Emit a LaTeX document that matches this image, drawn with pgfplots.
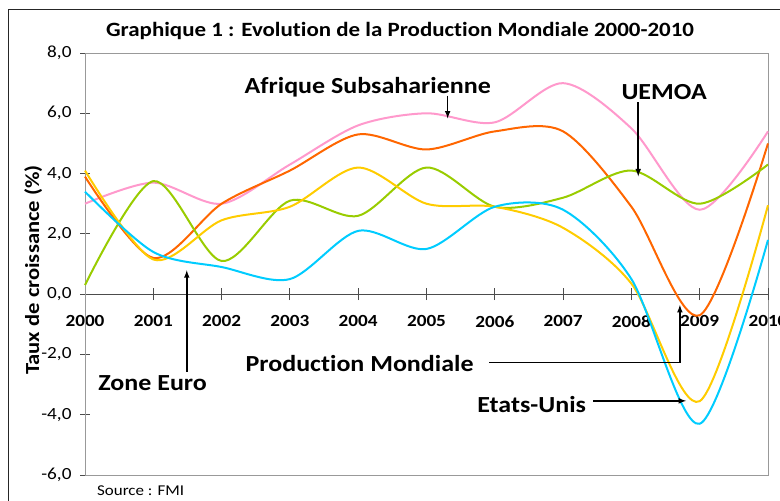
\documentclass[border=0pt]{standalone}
\usepackage{pgfplots}
\pgfplotsset{compat=1.18}
\usepackage{fontspec}
\setmainfont{Carlito}[FakeStretch=1.13, Ligatures=NoCommon]
\definecolor{cpink}{HTML}{FF99CC}
\definecolor{corange}{HTML}{FF6600}
\definecolor{cgreen}{HTML}{99CC00}
\definecolor{cyellow}{HTML}{FFCC00}
\definecolor{cblue}{HTML}{00CCFF}
\newcommand{\ann}{\fontsize{23}{23}\selectfont\bfseries}
\begin{document}
\begin{tikzpicture}[x=1pt,y=1pt]
\begin{axis}[
  at={(85pt,-475pt)}, anchor=south west,
  scale only axis, width=683pt, height=422pt,
  xmin=2000, xmax=2010, ymin=-6, ymax=8,
  axis x line*=middle, axis y line*=left,
  hide obscured x ticks=false,
  axis line style={black!70, line width=1pt},
  xtick={2000,2001,2002,2003,2004,2005,2006,2007,2008,2009,2010},
  xticklabels={2000,2001,2002,2003,2004,2005,2006,2007,2008,2009,2010},
  ytick={-6,-4,-2,0,2,4,6,8},
  yticklabels={{-6,0},{-4,0},{-2,0},{0,0},{2,0},{4,0},{6,0},{8,0}},
  tick align=center, major tick length=10pt,
  tick style={black!70, line width=1pt},
  xticklabel style={font=\fontsize{17}{17}\selectfont\bfseries, yshift=-13pt},
  yticklabel style={font=\fontsize{17}{17}\selectfont, xshift=-5pt},
  clip=false,
]
\draw[black!40, line width=1pt] (rel axis cs:0,0) rectangle (rel axis cs:1,1);
\pgfplotsinvokeforeach{2001,2002,2003,2004,2005,2006,2007,2008,2009,2010}{
  \draw[black!70, line width=1pt] (axis cs:#1,0) ++(0pt,-6pt) -- ++(0pt,12pt);
}
% Afrique Subsaharienne
\addplot[cpink, line width=2pt, smooth] coordinates {
(2000,3.0) (2001,3.7) (2002,3.0) (2003,4.3) (2004,5.6) (2005,6.0) (2006,5.7) (2007,7.0) (2008,5.5) (2009,2.8) (2010,5.4)};
% Production Mondiale
\addplot[corange, line width=2pt, smooth] coordinates {
(2000,3.9) (2001,1.2) (2002,3.0) (2003,4.1) (2004,5.3) (2005,4.8) (2006,5.4) (2007,5.4) (2008,2.9) (2009,-0.7) (2010,5.0)};
% UEMOA
\addplot[cgreen, line width=2pt, smooth] coordinates {
(2000,0.3) (2001,3.75) (2002,1.1) (2003,3.1) (2004,2.6) (2005,4.2) (2006,2.9) (2007,3.2) (2008,4.1) (2009,3.0) (2010,4.3)};
% Etats-Unis
\addplot[cyellow, line width=2pt, smooth] coordinates {
(2000,4.1) (2001,1.15) (2002,2.45) (2003,2.9) (2004,4.2) (2005,3.0) (2006,2.9) (2007,2.2) (2008,0.35) (2009,-3.55) (2010,2.95)};
% Zone Euro
\addplot[cblue, line width=2pt, smooth] coordinates {
(2000,3.4) (2001,1.4) (2002,0.9) (2003,0.5) (2004,2.1) (2005,1.5) (2006,2.9) (2007,2.8) (2008,0.5) (2009,-4.3) (2010,1.8)};
% annotations
\node[font=\ann, anchor=base, inner sep=0pt] at (axis cs:2004.14,6.66) {Afrique Subsaharienne};
\draw[-latex, line width=1.5pt] (axis cs:2005.31,6.59) -- (axis cs:2005.31,5.83);
\node[font=\ann, anchor=base, inner sep=0pt] at (axis cs:2008.48,6.46) {UEMOA};
\draw[-latex, line width=1.5pt] (axis cs:2008.10,6.36) -- (axis cs:2008.10,3.91);
\node[font=\ann, anchor=base, inner sep=0pt] at (axis cs:2004.02,-2.58) {Production Mondiale};
\draw[line width=0.8pt] (axis cs:2005.92,-2.28) -- (axis cs:2008.71,-2.28);
\draw[-latex, line width=1.5pt] (axis cs:2008.71,-2.28) -- (axis cs:2008.71,-0.36);
\node[font=\ann, anchor=base, inner sep=0pt] at (axis cs:2000.99,-3.18) {Zone Euro};
\draw[-latex, line width=1.5pt] (axis cs:2001.49,-2.58) -- (axis cs:2001.49,0.79);
\node[font=\ann, anchor=base, inner sep=0pt] at (axis cs:2006.54,-3.91) {Etats-Unis};
\draw[-latex, line width=1.5pt] (axis cs:2007.44,-3.54) -- (axis cs:2008.80,-3.54);
\end{axis}
\node[font=\fontsize{20.3}{20.3}\selectfont\bfseries, anchor=base, inner sep=0pt] at (400pt,-36pt) {Graphique 1 : Evolution de la Production Mondiale 2000-2010};
\node[font=\fontsize{20}{20}\selectfont\bfseries, rotate=90, anchor=base west, inner sep=0pt] at (39pt,-375pt) {Taux de croissance (\%)};
\node[font=\fontsize{15}{15}\selectfont, anchor=base west, inner sep=0pt] at (97pt,-495pt) {Source : FMI};
\draw[black!85, line width=1.2pt] (8.5pt,-9.5pt) rectangle (800pt,-520pt);
\pgfresetboundingbox
\useasboundingbox (0pt,0pt) rectangle (780pt,-501pt);
\end{tikzpicture}
\end{document}
